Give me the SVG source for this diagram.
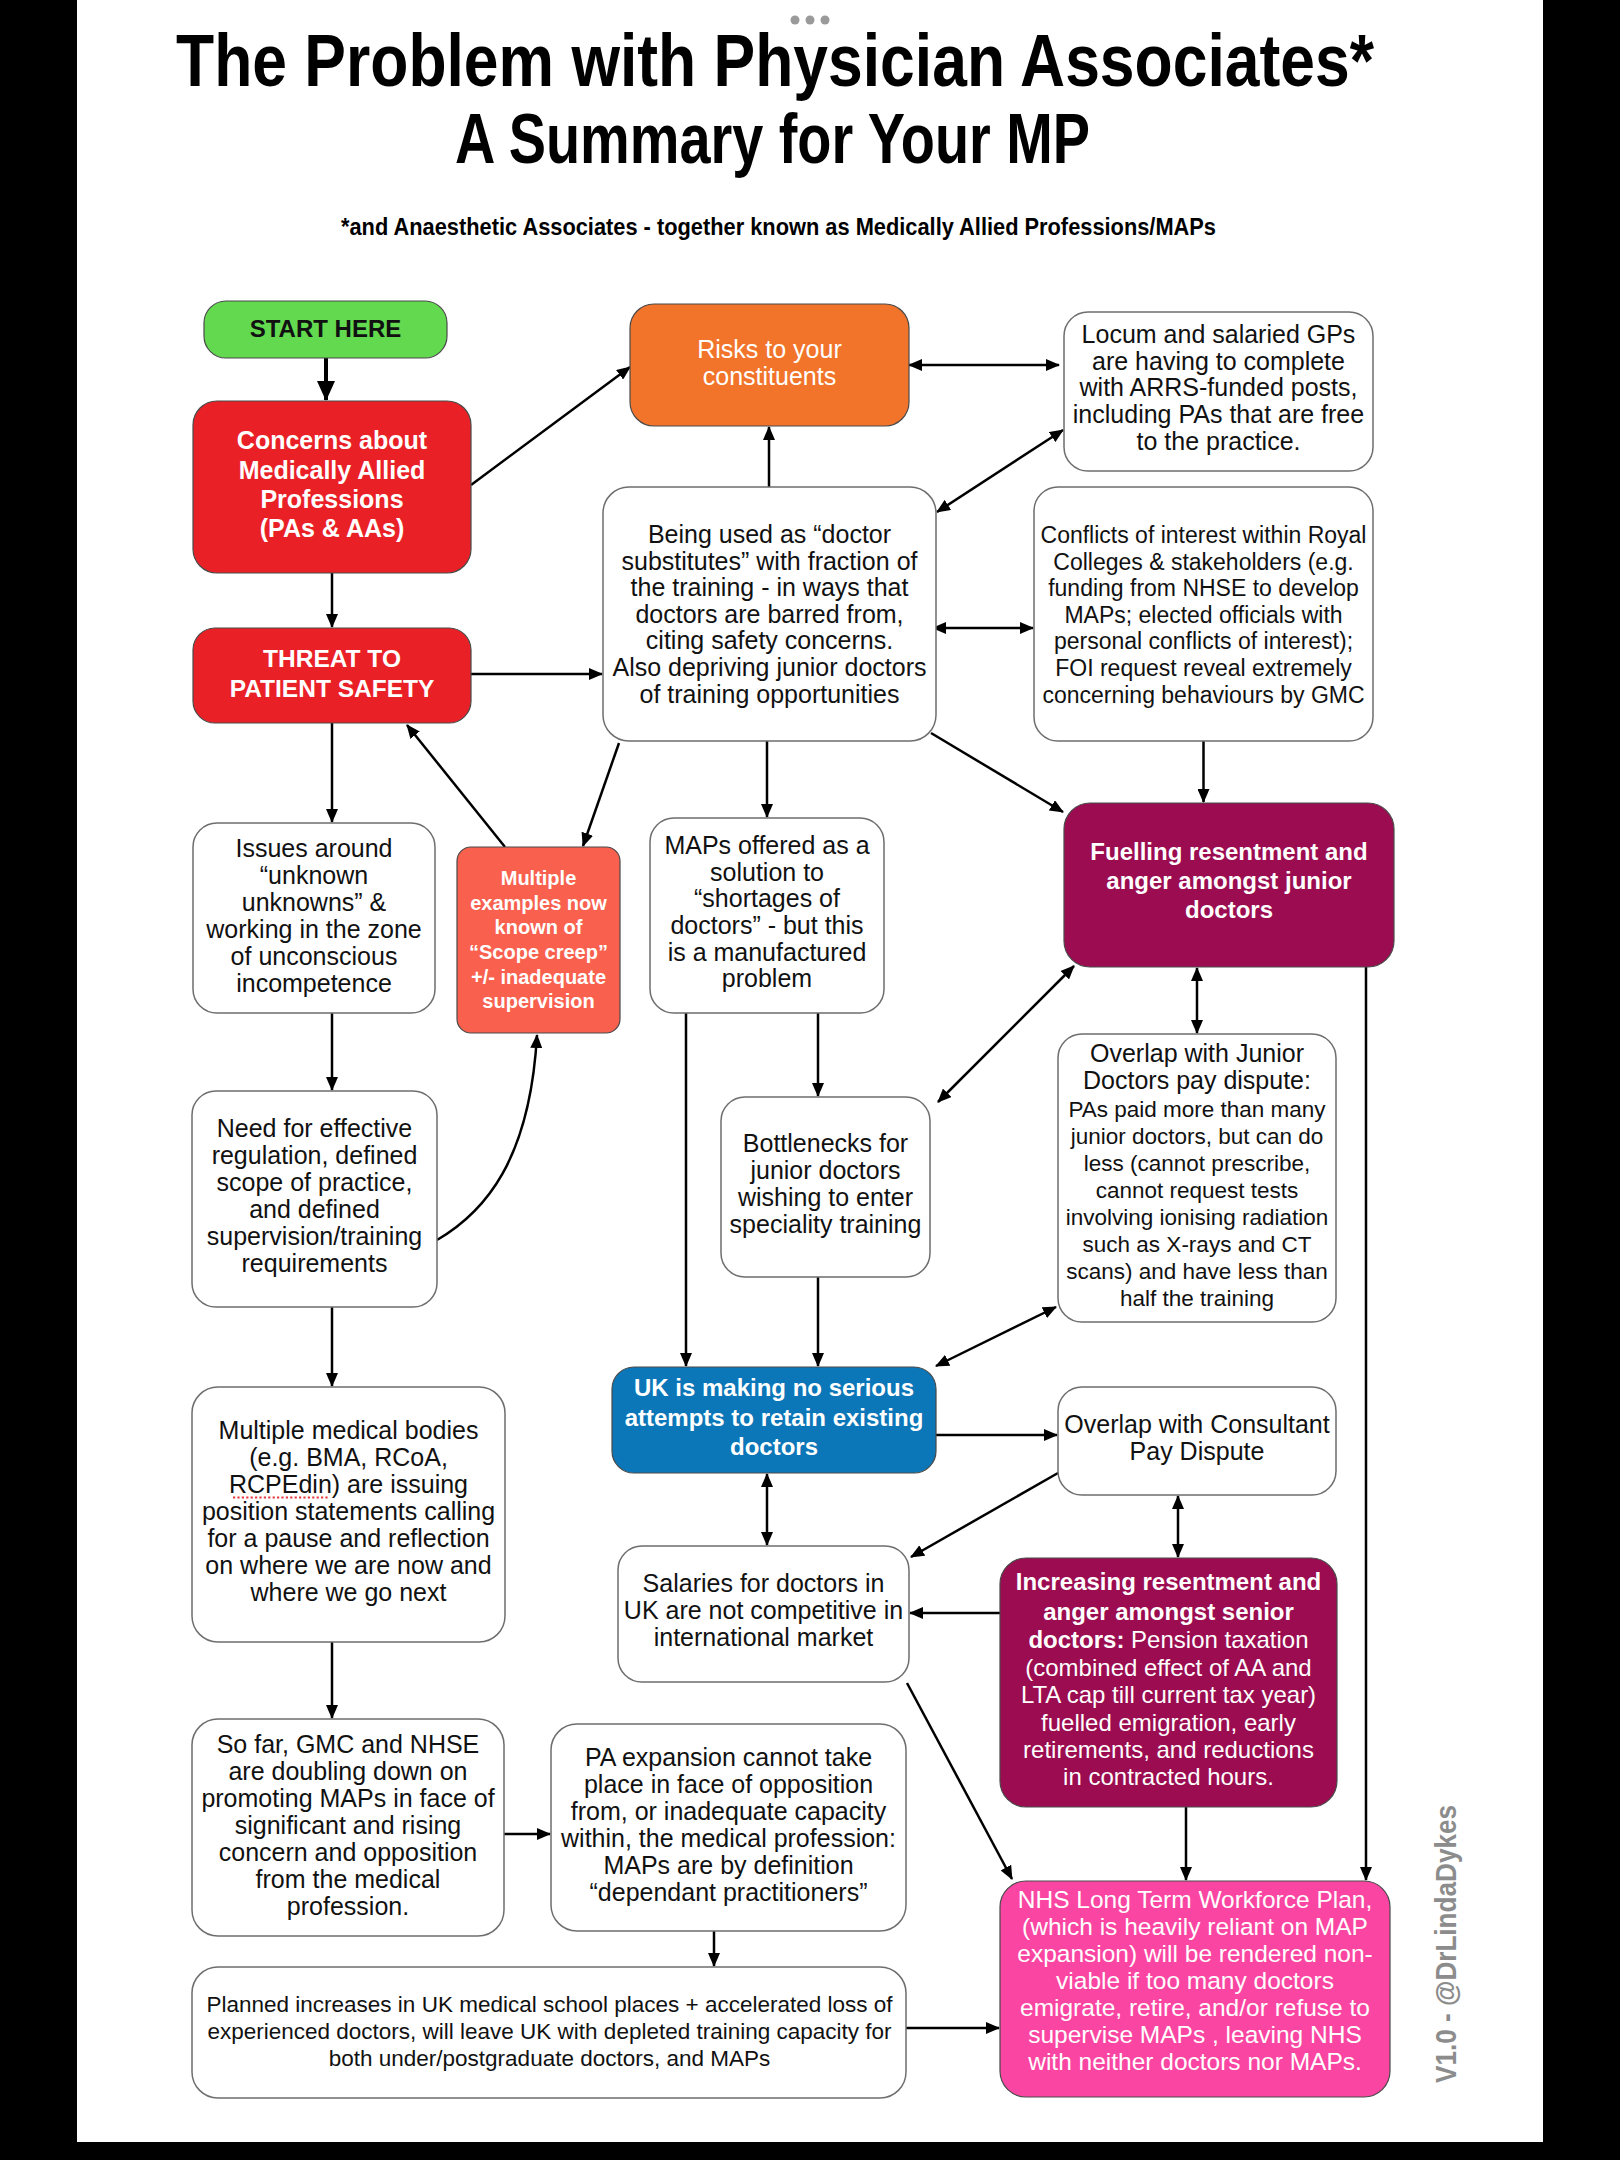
<svg xmlns="http://www.w3.org/2000/svg" width="1620" height="2160" viewBox="0 0 1620 2160">
<defs>
<marker id="ah" viewBox="0 0 14 12" refX="13" refY="6" markerWidth="14" markerHeight="12" markerUnits="userSpaceOnUse" orient="auto-start-reverse"><path d="M0,0 L14,6 L0,12 z" fill="#000"/></marker>
<marker id="ahb" viewBox="0 0 20 18" refX="19" refY="9" markerWidth="20" markerHeight="18" markerUnits="userSpaceOnUse" orient="auto-start-reverse"><path d="M0,0 L20,9 L0,18 z" fill="#000"/></marker>
</defs>
<style>
text{font-family:"Liberation Sans",Arial,Helvetica,sans-serif;}
.t{font-size:25px;text-anchor:middle;fill:#111;}
.w{fill:#fff;}
.b{font-weight:bold;}
.s20{font-size:20px;}
.s22{font-size:22.5px;}
.s23{font-size:23px;}
.s24{font-size:24px;}
.s245{font-size:24.5px;}
.box{fill:#fff;stroke:#6e6e6e;stroke-width:1.5;}
.cb{stroke:#4a4a4a;stroke-width:1.2;}
.c line,.c path{stroke:#000;stroke-width:2.5;fill:none;marker-end:url(#ah);}
.c .d{marker-start:url(#ah);}
</style>
<rect x="0" y="0" width="1620" height="2160" fill="#fff"/>
<rect x="0" y="0" width="77" height="2160" fill="#000"/>
<rect x="1543" y="0" width="77" height="2160" fill="#000"/>
<rect x="0" y="2142" width="1620" height="18" fill="#000"/>
<g id="dots" fill="#9a9a9a"><circle cx="795" cy="20" r="4.5"/><circle cx="810" cy="20" r="4.5"/><circle cx="825" cy="20" r="4.5"/></g>
<g id="title">
<text x="176" y="86" font-size="75" class="b" textLength="1198" lengthAdjust="spacingAndGlyphs">The Problem with Physician Associates*</text>
<text x="455" y="163" font-size="70" class="b" textLength="635" lengthAdjust="spacingAndGlyphs">A Summary for Your MP</text>
<text x="341" y="235" font-size="23.5" class="b" textLength="875" lengthAdjust="spacingAndGlyphs">*and Anaesthetic Associates - together known as Medically Allied Professions/MAPs</text>
</g>
<g class="c" id="connectors">
<line x1="326" y1="358" x2="326" y2="400" style="stroke-width:4;marker-end:url(#ahb)"/>
<line x1="471" y1="485" x2="630" y2="367"/>
<line x1="332" y1="573" x2="332" y2="627"/>
<line x1="471" y1="674" x2="602" y2="674"/>
<line x1="769" y1="487" x2="769" y2="427"/>
<line class="d" x1="909" y1="365" x2="1059" y2="365"/>
<line class="d" x1="937" y1="512" x2="1063" y2="430"/>
<line class="d" x1="933" y1="628" x2="1033" y2="628"/>
<line x1="1203.5" y1="741" x2="1203.5" y2="802"/>
<line x1="931" y1="733" x2="1063" y2="812"/>
<line x1="332" y1="723" x2="332" y2="822"/>
<line x1="505" y1="847" x2="407" y2="725"/>
<line x1="619" y1="743" x2="583" y2="846"/>
<line x1="767" y1="741" x2="767" y2="817"/>
<line x1="332" y1="1013" x2="332" y2="1090"/>
<path d="M437,1240 C485,1212 530,1160 537,1035"/>
<line x1="686" y1="1013" x2="686" y2="1366"/>
<line x1="818" y1="1013" x2="818" y2="1096"/>
<line x1="818" y1="1277" x2="818" y2="1366"/>
<line class="d" x1="1197" y1="968" x2="1197" y2="1033"/>
<line class="d" x1="1074" y1="966" x2="938" y2="1102"/>
<line class="d" x1="1056" y1="1307" x2="936" y2="1366"/>
<line x1="1366" y1="967" x2="1366" y2="1880"/>
<line x1="332" y1="1307" x2="332" y2="1386"/>
<line x1="936" y1="1435" x2="1057" y2="1435"/>
<line class="d" x1="767" y1="1474" x2="767" y2="1545"/>
<line x1="1058" y1="1473" x2="911" y2="1557"/>
<line class="d" x1="1178" y1="1496" x2="1178" y2="1557"/>
<line x1="1000" y1="1613" x2="910" y2="1613"/>
<line x1="332" y1="1642" x2="332" y2="1718"/>
<line x1="504" y1="1834" x2="550" y2="1834"/>
<line x1="714" y1="1931" x2="714" y2="1966"/>
<line x1="907" y1="1683" x2="1012" y2="1879"/>
<line x1="1186" y1="1807" x2="1186" y2="1880"/>
<line x1="906" y1="2028" x2="999" y2="2028"/>
</g>
<g id="start">
<rect x="204" y="301" width="243" height="57" rx="22" fill="#62d94f" class="cb"/>
<text class="t b s24" x="325.5" y="337">START HERE</text>
</g>
<g id="concerns">
<rect x="193" y="401" width="278" height="172" rx="24" fill="#ea2027" class="cb"/>
<text class="t w b"><tspan x="332" y="449">Concerns about</tspan><tspan x="332" y="479">Medically Allied</tspan><tspan x="332" y="508">Professions</tspan><tspan x="332" y="537">(PAs &amp; AAs)</tspan></text>
</g>
<g id="threat">
<rect x="193" y="628" width="278" height="95" rx="22" fill="#ea2027" class="cb"/>
<text class="t w b s245"><tspan x="332" y="667">THREAT TO</tspan><tspan x="332" y="697">PATIENT SAFETY</tspan></text>
</g>
<g id="risks">
<rect x="630" y="304" width="279" height="122" rx="24" fill="#f1742a" class="cb"/>
<text class="t w"><tspan x="769.5" y="358">Risks to your</tspan><tspan x="769.5" y="385">constituents</tspan></text>
</g>
<g id="locum">
<rect x="1064" y="312" width="309" height="159" rx="24" class="box"/>
<text class="t"><tspan x="1218.5" y="343">Locum and salaried GPs</tspan><tspan x="1218.5" y="370">are having to complete</tspan><tspan x="1218.5" y="396">with ARRS-funded posts,</tspan><tspan x="1218.5" y="423">including PAs that are free</tspan><tspan x="1218.5" y="450">to the practice.</tspan></text>
</g>
<g id="beingused">
<rect x="603" y="487" width="333" height="254" rx="26" class="box"/>
<text class="t"><tspan x="769.5" y="543">Being used as “doctor</tspan><tspan x="769.5" y="569.6">substitutes” with fraction of</tspan><tspan x="769.5" y="596.2">the training - in ways that</tspan><tspan x="769.5" y="622.8">doctors are barred from,</tspan><tspan x="769.5" y="649.4">citing safety concerns.</tspan><tspan x="769.5" y="676">Also depriving junior doctors</tspan><tspan x="769.5" y="702.6">of training opportunities</tspan></text>
</g>
<g id="conflicts">
<rect x="1034" y="487" width="339" height="254" rx="24" class="box"/>
<text class="t s23"><tspan x="1203.5" y="543">Conflicts of interest within Royal</tspan><tspan x="1203.5" y="569.6">Colleges &amp; stakeholders (e.g.</tspan><tspan x="1203.5" y="596.2">funding from NHSE to develop</tspan><tspan x="1203.5" y="622.8">MAPs; elected officials with</tspan><tspan x="1203.5" y="649.4">personal conflicts of interest);</tspan><tspan x="1203.5" y="676">FOI request reveal extremely</tspan><tspan x="1203.5" y="702.6">concerning behaviours by GMC</tspan></text>
</g>
<g id="issues">
<rect x="193" y="823" width="242" height="190" rx="24" class="box"/>
<text class="t"><tspan x="314" y="857">Issues around</tspan><tspan x="314" y="884">“unknown</tspan><tspan x="314" y="911">unknowns” &amp;</tspan><tspan x="314" y="938">working in the zone</tspan><tspan x="314" y="965">of unconscious</tspan><tspan x="314" y="992">incompetence</tspan></text>
</g>
<g id="scopecreep">
<rect x="457" y="847" width="163" height="186" rx="14" fill="#f9604e" class="cb"/>
<text class="t w b s20"><tspan x="538.5" y="885">Multiple</tspan><tspan x="538.5" y="910">examples now</tspan><tspan x="538.5" y="934">known of</tspan><tspan x="538.5" y="959">“Scope creep”</tspan><tspan x="538.5" y="984">+/- inadequate</tspan><tspan x="538.5" y="1008">supervision</tspan></text>
</g>
<g id="maps">
<rect x="650" y="818" width="234" height="195" rx="24" class="box"/>
<text class="t"><tspan x="767" y="854">MAPs offered as a</tspan><tspan x="767" y="881">solution to</tspan><tspan x="767" y="907">“shortages of</tspan><tspan x="767" y="934">doctors” - but this</tspan><tspan x="767" y="961">is a manufactured</tspan><tspan x="767" y="987">problem</tspan></text>
</g>
<g id="fuelling">
<rect x="1064" y="803" width="330" height="164" rx="26" fill="#9b0c50" class="cb"/>
<text class="t w b s24"><tspan x="1229" y="860">Fuelling resentment and</tspan><tspan x="1229" y="889">anger amongst junior</tspan><tspan x="1229" y="918">doctors</tspan></text>
</g>
<g id="need">
<rect x="192" y="1091" width="245" height="216" rx="24" class="box"/>
<text class="t"><tspan x="314.5" y="1137">Need for effective</tspan><tspan x="314.5" y="1164">regulation, defined</tspan><tspan x="314.5" y="1191">scope of practice,</tspan><tspan x="314.5" y="1218">and defined</tspan><tspan x="314.5" y="1245">supervision/training</tspan><tspan x="314.5" y="1272">requirements</tspan></text>
</g>
<g id="bottlenecks">
<rect x="721" y="1097" width="209" height="180" rx="24" class="box"/>
<text class="t"><tspan x="825.5" y="1152">Bottlenecks for</tspan><tspan x="825.5" y="1179">junior doctors</tspan><tspan x="825.5" y="1206">wishing to enter</tspan><tspan x="825.5" y="1233">speciality training</tspan></text>
</g>
<g id="overlapjunior">
<rect x="1058" y="1034" width="278" height="288" rx="24" class="box"/>
<text class="t"><tspan x="1197" y="1062">Overlap with Junior</tspan><tspan x="1197" y="1089">Doctors pay dispute:</tspan></text>
<text class="t s22"><tspan x="1197" y="1117">PAs paid more than many</tspan><tspan x="1197" y="1144">junior doctors, but can do</tspan><tspan x="1197" y="1171">less (cannot prescribe,</tspan><tspan x="1197" y="1198">cannot request tests</tspan><tspan x="1197" y="1225">involving ionising radiation</tspan><tspan x="1197" y="1252">such as X-rays and CT</tspan><tspan x="1197" y="1279">scans) and have less than</tspan><tspan x="1197" y="1306">half the training</tspan></text>
</g>
<g id="uk">
<rect x="612" y="1367" width="324" height="106" rx="22" fill="#0b76b8" class="cb"/>
<text class="t w b s24"><tspan x="774" y="1396">UK is making no serious</tspan><tspan x="774" y="1426">attempts to retain existing</tspan><tspan x="774" y="1455">doctors</tspan></text>
</g>
<g id="overlapconsultant">
<rect x="1058" y="1387" width="278" height="108" rx="24" class="box"/>
<text class="t"><tspan x="1197" y="1433">Overlap with Consultant</tspan><tspan x="1197" y="1460">Pay Dispute</tspan></text>
</g>
<g id="bodies">
<rect x="192" y="1387" width="313" height="255" rx="26" class="box"/>
<text class="t"><tspan x="348.5" y="1439">Multiple medical bodies</tspan><tspan x="348.5" y="1466">(e.g. BMA, RCoA,</tspan><tspan x="348.5" y="1493">RCPEdin) are issuing</tspan><tspan x="348.5" y="1520">position statements calling</tspan><tspan x="348.5" y="1547">for a pause and reflection</tspan><tspan x="348.5" y="1574">on where we are now and</tspan><tspan x="348.5" y="1601">where we go next</tspan></text>
<line x1="233" y1="1497.5" x2="329" y2="1497.5" stroke="#e8383d" stroke-width="2.2" stroke-dasharray="2.2,2.2"/>
</g>
<g id="salaries">
<rect x="618" y="1546" width="291" height="136" rx="24" class="box"/>
<text class="t"><tspan x="763.5" y="1592">Salaries for doctors in</tspan><tspan x="763.5" y="1619">UK are not competitive in</tspan><tspan x="763.5" y="1646">international market</tspan></text>
</g>
<g id="increasing">
<rect x="1000" y="1558" width="337" height="249" rx="26" fill="#9b0c50" class="cb"/>
<text class="t w s24"><tspan x="1168.5" y="1590" class="b">Increasing resentment and</tspan><tspan x="1168.5" y="1620" class="b">anger amongst senior</tspan><tspan x="1168.5" y="1648"><tspan class="b">doctors:</tspan> Pension taxation</tspan><tspan x="1168.5" y="1676">(combined effect of AA and</tspan><tspan x="1168.5" y="1703">LTA cap till current tax year)</tspan><tspan x="1168.5" y="1731">fuelled emigration, early</tspan><tspan x="1168.5" y="1758">retirements, and reductions</tspan><tspan x="1168.5" y="1785">in contracted hours.</tspan></text>
</g>
<g id="sofar">
<rect x="192" y="1719" width="312" height="217" rx="26" class="box"/>
<text class="t"><tspan x="348" y="1753">So far, GMC and NHSE</tspan><tspan x="348" y="1780">are doubling down on</tspan><tspan x="348" y="1807">promoting MAPs in face of</tspan><tspan x="348" y="1834">significant and rising</tspan><tspan x="348" y="1861">concern and opposition</tspan><tspan x="348" y="1888">from the medical</tspan><tspan x="348" y="1915">profession.</tspan></text>
</g>
<g id="paexpansion">
<rect x="551" y="1724" width="355" height="207" rx="26" class="box"/>
<text class="t"><tspan x="728.5" y="1766">PA expansion cannot take</tspan><tspan x="728.5" y="1793">place in face of opposition</tspan><tspan x="728.5" y="1820">from, or inadequate capacity</tspan><tspan x="728.5" y="1847">within, the medical profession:</tspan><tspan x="728.5" y="1874">MAPs are by definition</tspan><tspan x="728.5" y="1901">“dependant practitioners”</tspan></text>
</g>
<g id="planned">
<rect x="192" y="1967" width="714" height="131" rx="26" class="box"/>
<text class="t s22"><tspan x="549.5" y="2012">Planned increases in UK medical school places + accelerated loss of</tspan><tspan x="549.5" y="2039">experienced doctors, will leave UK with depleted training capacity for</tspan><tspan x="549.5" y="2066">both under/postgraduate doctors, and MAPs</tspan></text>
</g>
<g id="nhs">
<rect x="1000" y="1881" width="390" height="216" rx="26" fill="#fb45a2" class="cb"/>
<text class="t w s245"><tspan x="1195" y="1908">NHS Long Term Workforce Plan,</tspan><tspan x="1195" y="1935">(which is heavily reliant on MAP</tspan><tspan x="1195" y="1962">expansion) will be rendered non-</tspan><tspan x="1195" y="1989">viable if too many doctors</tspan><tspan x="1195" y="2016">emigrate, retire, and/or refuse to</tspan><tspan x="1195" y="2043">supervise MAPs , leaving NHS</tspan><tspan x="1195" y="2070">with neither doctors nor MAPs.</tspan></text>
</g>
<g id="watermark">
<text transform="translate(1456,2083) rotate(-90)" x="0" y="0" font-size="30" class="b" fill="#8c8c8c" textLength="278" lengthAdjust="spacingAndGlyphs">V1.0 - @DrLindaDykes</text>
</g>
</svg>
